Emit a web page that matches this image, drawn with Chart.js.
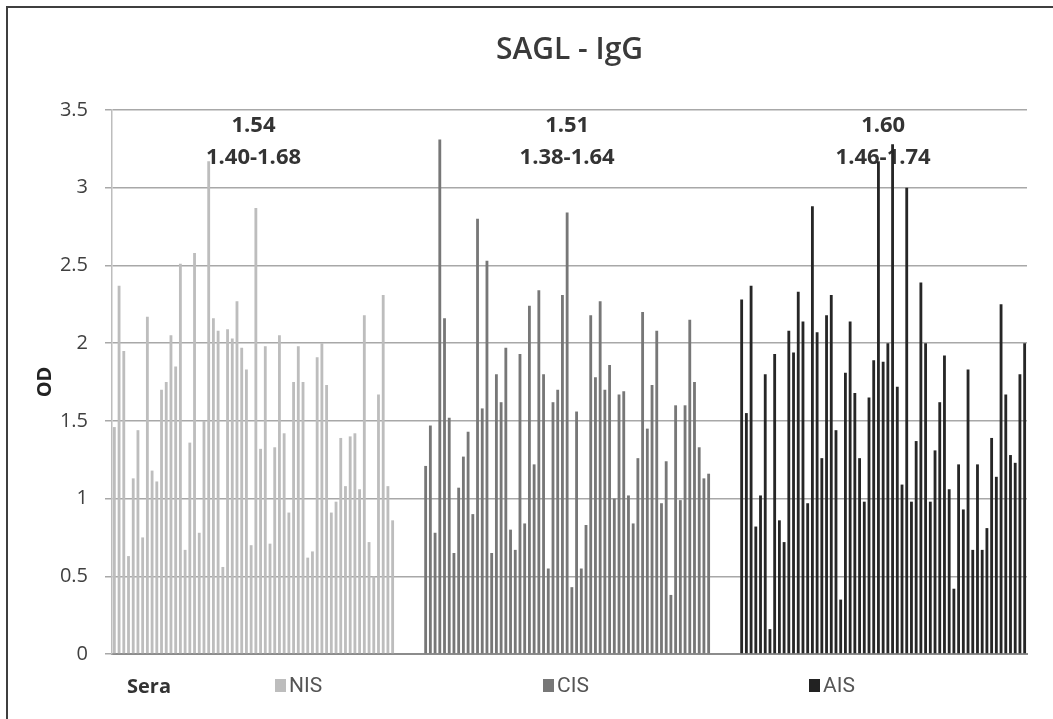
<!DOCTYPE html>
<html lang="en">

<head>
    <meta charset="UTF-8">
    <script src="https://cdn.jsdelivr.net/npm/chart.js@4"></script>
    <title>SAGL - IgG</title>
    <style>
        body { margin: 0; background: #fff; }
        .wrap { position: relative; width: 1053px; height: 719px; overflow: hidden; }
        .frame {
            position: absolute; left: 6px; top: 6px; right: -4px; bottom: -4px;
            border-left: 2px solid #3f3f3f; border-top: 2px solid #3f3f3f;
        }
        canvas { position: absolute; left: 0; top: 0; }
        .sera {
            position: absolute; left: 127px; top: 672px;
            font-family: 'Open Sans', sans-serif; font-weight: bold; font-size: 20px; color: #333;
        }
        .item {
            position: absolute; top: 673px; display: flex; align-items: center;
            font-family: 'Liberation Sans Narrow', 'Roboto', sans-serif; font-size: 21px; color: #555;
        }
        .item span.box { display: inline-block; width: 11px; height: 13px; margin-right: 3px; }
    </style>
</head>

<body>
    <div class="wrap">
        <div class="frame"></div>
        <canvas id="odChart" width="1053" height="719"></canvas>
        <div class="sera">Sera</div>
        <div class="item" style="left:275px"><span class="box" style="background:#bdbdbd"></span>NIS</div>
        <div class="item" style="left:543px"><span class="box" style="background:#777"></span>CIS</div>
        <div class="item" style="left:809px"><span class="box" style="background:#222"></span>AIS</div>
    </div>
</body>

</html>

<script>
    // OD por soro
    const groups = ['NIS', 'CIS', 'AIS'];
    const groupMeans = ['1.54', '1.51', '1.60'];
    const groupCI = ['1.40-1.68', '1.38-1.64', '1.46-1.74'];
    const yTicks = [0, 0.5, 1, 1.5, 2, 2.5, 3, 3.5];

    const nisOD = [1.46, 2.37, 1.95, 0.63, 1.13, 1.44, 0.75, 2.17, 1.18, 1.11,
        1.70, 1.75, 2.05, 1.85, 2.51, 0.67, 1.36, 2.58, 0.78, 1.50,
        3.17, 2.16, 2.08, 0.56, 2.09, 2.03, 2.27, 1.97, 1.83, 0.70,
        2.87, 1.32, 1.98, 0.71, 1.33, 2.05, 1.42, 0.91, 1.75, 1.98,
        1.75, 0.62, 0.66, 1.91, 2.00, 1.73, 0.91, 0.98, 1.39, 1.08,
        1.40, 1.42, 1.06, 2.18, 0.72, 0.50, 1.67, 2.31, 1.08, 0.86];

    const cisOD = [1.21, 1.47, 0.78, 3.31, 2.16, 1.52, 0.65, 1.07, 1.27, 1.43,
        0.90, 2.80, 1.58, 2.53, 0.65, 1.80, 1.62, 1.97, 0.80, 0.67,
        1.93, 0.84, 2.24, 1.22, 2.34, 1.80, 0.55, 1.62, 1.70, 2.31,
        2.84, 0.43, 1.56, 0.55, 0.83, 2.18, 1.78, 2.27, 1.70, 1.86,
        1.00, 1.67, 1.69, 1.02, 0.84, 1.26, 2.20, 1.45, 1.73, 2.08,
        0.97, 1.24, 0.38, 1.60, 0.99, 1.60, 2.15, 1.75, 1.33, 1.13, 1.16];

    const aisOD = [2.28, 1.55, 2.37, 0.82, 1.02, 1.80, 0.16, 1.93, 0.86, 0.72,
        2.08, 1.94, 2.33, 2.14, 0.97, 2.88, 2.07, 1.26, 2.18, 2.31,
        1.44, 0.35, 1.81, 2.14, 1.68, 1.26, 0.98, 1.65, 1.89, 3.17,
        1.88, 2.00, 3.28, 1.72, 1.09, 3.00, 0.98, 1.37, 2.39, 2.00,
        0.98, 1.31, 1.62, 1.92, 1.06, 0.42, 1.22, 0.93, 1.83, 0.67,
        1.22, 0.67, 0.81, 1.39, 1.14, 2.25, 1.67, 1.28, 1.23, 1.80, 2.00];

    const groupValues = [nisOD, cisOD, aisOD];
    const groupColors = ['#bdbdbd', '#777777', '#262626'];
    const gap = 6; // categorias vazias entre os grupos

    // monta as categorias e as series (null fora do proprio grupo)
    let labels = [];
    let groupRanges = [];
    for (let g = 0; g < groupValues.length; g++) {
        if (g > 0) {
            for (let k = 0; k < gap; k++) labels.push('');
        }
        const start = labels.length;
        for (let i = 0; i < groupValues[g].length; i++) {
            labels.push(groups[g] + ' ' + (i + 1));
        }
        groupRanges.push([start, labels.length - 1]);
    }

    const datasets = groupValues.map((vals, g) => {
        const data = labels.map(() => null);
        for (let i = 0; i < vals.length; i++) {
            data[groupRanges[g][0] + i] = vals[i];
        }
        return {
            label: groups[g],
            data: data,
            backgroundColor: groupColors[g],
            grouped: false,
            barPercentage: 0.6,
            categoryPercentage: 1
        };
    });

    const groupLabels = {
        id: 'groupLabels',
        beforeDatasetsDraw(chart) {
            const { ctx, scales: { x, y } } = chart;
            ctx.save();
            ctx.font = 'bold 22px "Open Sans"';
            ctx.fillStyle = '#333';
            ctx.textAlign = 'center';
            ctx.textBaseline = 'middle';
            groupRanges.forEach((r, i) => {
                const cx = (x.getPixelForValue(r[0]) + x.getPixelForValue(r[1])) / 2;
                ctx.fillText(groupMeans[i], cx, y.getPixelForValue(3.40));
                ctx.fillText(groupCI[i], cx, y.getPixelForValue(3.19));
            });
            ctx.restore();
        }
    };

    const ctx = document.getElementById('odChart').getContext('2d');
    const chart = new Chart(ctx, {
        type: 'bar',
        data: { labels: labels, datasets: datasets },
        options: {
            responsive: false,
            animation: false,
            layout: { padding: { left: 0, right: 26, top: 0, bottom: 0 } },
            plugins: {
                legend: { display: false },
                tooltip: { enabled: false },
                title: {
                    display: true,
                    text: 'SAGL - IgG',
                    fullSize: false,
                    color: '#3a3a3a',
                    font: { family: 'Open Sans', size: 30, weight: '600' },
                    padding: { top: 32, bottom: 42 }
                }
            },
            scales: {
                x: {
                    ticks: { display: false },
                    grid: { display: false },
                    border: { color: '#8c8c8c', width: 2 },
                    afterFit: s => { s.height = 65; }
                },
                y: {
                    min: 0,
                    max: 3.5,
                    afterBuildTicks: s => { s.ticks = yTicks.map(v => ({ value: v })); },
                    ticks: {
                        padding: 17,
                        color: '#404040',
                        font: { family: 'Open Sans', size: 20 },
                        callback: v => String(v)
                    },
                    grid: { color: '#a8a8a8', lineWidth: 1.5, tickLength: 7 },
                    border: { color: '#bdbdbd', width: 1.5 },
                    title: {
                        display: true,
                        text: 'OD',
                        color: '#222',
                        font: { family: 'Open Sans', size: 20, weight: 'bold' },
                        padding: { top: 33, bottom: 0 }
                    },
                    afterFit: s => { s.width = 112; }
                }
            }
        },
        plugins: [groupLabels]
    });
</script>
